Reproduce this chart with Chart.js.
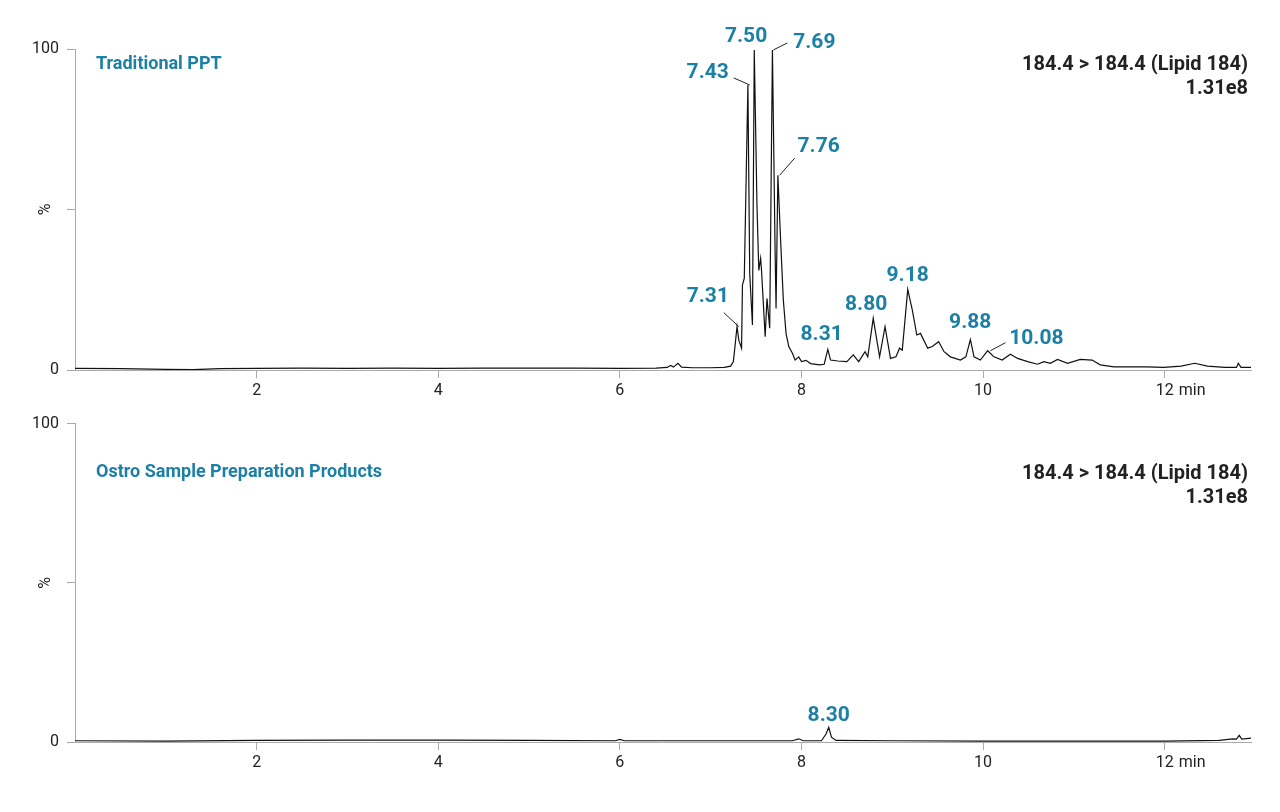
<!DOCTYPE html>
<html>
<head>
<meta charset="utf-8">
<script src="https://cdn.jsdelivr.net/npm/chart.js@4.4.1/dist/chart.umd.min.js"></script>
<style>
  html, body { margin: 0; padding: 0; background: #fff; }
  #wrap { position: relative; width: 1280px; height: 812px; }
  canvas { position: absolute; left: 0; }
</style>
</head>
<body>
<div id="wrap">
  <canvas id="topChart" width="1280" height="406" style="top:0"></canvas>
  <canvas id="bottomChart" width="1280" height="406" style="top:406px"></canvas>
</div>
<script>
// axis ticks
const xTicks = [2, 4, 6, 8, 10, 12];
const yTicks = [0, 50, 100];
const timeMax = 12.95;

const channelText = "184.4 > 184.4 (Lipid 184)";
const intensityText = "1.31e8";

// Traditional PPT trace (min, %)
const topTimes = [0, 0.5, 1.0, 1.3, 1.6, 2.0, 2.5, 3.0, 3.5, 4.0, 4.5, 5.0, 5.5, 6.0, 6.4,
  6.52, 6.56, 6.59, 6.64, 6.68, 6.8, 7.0, 7.15, 7.22, 7.25, 7.27, 7.29, 7.31, 7.34, 7.35,
  7.37, 7.41, 7.43, 7.46, 7.48, 7.51, 7.53, 7.55, 7.56, 7.60, 7.62, 7.65, 7.68, 7.71, 7.72,
  7.74, 7.77, 7.80, 7.83, 7.86, 7.90, 7.93, 7.97, 8.00, 8.05, 8.10, 8.20, 8.25, 8.29, 8.32,
  8.40, 8.50, 8.57, 8.63, 8.70, 8.73, 8.79, 8.86, 8.92, 8.98, 9.04, 9.08, 9.11, 9.17, 9.22,
  9.27, 9.31, 9.39, 9.44, 9.51, 9.57, 9.64, 9.75, 9.81, 9.86, 9.90, 9.97, 10.05, 10.12, 10.21,
  10.30, 10.38, 10.49, 10.60, 10.67, 10.74, 10.82, 10.93, 11.07, 11.20, 11.29, 11.44, 11.80, 11.99, 12.18,
  12.33, 12.47, 12.66, 12.79, 12.81, 12.84, 12.95];
const topSignal = [0.5, 0.4, 0.2, 0.1, 0.4, 0.5, 0.6, 0.5, 0.6, 0.5, 0.6, 0.6, 0.6, 0.5, 0.6,
  0.8, 1.4, 0.9, 2.1, 0.9, 0.7, 0.7, 0.8, 1.2, 2.6, 8.0, 13.5, 9.3, 6.8, 26.5,
  28.5, 88.8, 30.0, 14.0, 99.7, 51.0, 31.0, 34.8, 31.0, 10.4, 22.3, 13.0, 99.7, 36.0, 19.2,
  60.7, 40.5, 21.8, 11.4, 7.3, 5.2, 3.1, 4.1, 2.6, 3.0, 2.0, 1.6, 1.8, 6.4, 3.1,
  2.8, 2.6, 4.7, 2.6, 5.7, 4.1, 16.1, 4.1, 13.5, 3.6, 4.1, 6.8, 6.2, 25.1, 18.7,
  10.9, 11.4, 6.8, 7.3, 8.8, 5.7, 4.1, 3.1, 4.1, 9.5, 4.1, 3.1, 6.0, 4.1, 3.1,
  4.9, 3.6, 2.6, 1.8, 2.6, 2.1, 3.3, 2.1, 3.3, 3.1, 1.6, 1.0, 1.0, 0.8, 1.2,
  2.1, 1.2, 0.8, 0.8, 2.1, 0.8, 0.8];

// Ostro trace (min, %)
const bottomTimes = [0, 1, 2, 3, 4, 5, 5.95, 6.0, 6.05, 7.0, 7.9, 7.97, 8.02, 8.22, 8.27,
  8.30, 8.33, 8.38, 9, 10, 11, 12, 12.6, 12.75, 12.79, 12.82, 12.85, 12.95];
const bottomSignal = [0.4, 0.3, 0.5, 0.6, 0.6, 0.5, 0.4, 0.8, 0.4, 0.4, 0.4, 1.0, 0.4, 0.4, 2.5,
  4.6, 1.5, 0.5, 0.4, 0.3, 0.3, 0.3, 0.5, 1.0, 0.9, 2.1, 0.9, 1.2];

// annotated peaks
const topPeakLabels = ["7.31", "7.43", "7.50", "7.69", "7.76", "8.31", "8.80", "9.18", "9.88", "10.08"];
const topPeakTimes = [7.31, 7.43, 7.50, 7.69, 7.76, 8.31, 8.80, 9.18, 9.88, 10.08];
const topPeakHeights = [13.5, 88.8, 99.7, 99.7, 60.7, 6.4, 16.1, 25.1, 9.5, 6.0];
const bottomPeakLabels = ["8.30"];
const bottomPeakTimes = [8.30];
const bottomPeakHeights = [4.6];

// label placement in px relative to the peak: [dx, dy, leaderDx, leaderDy]
const topLabelPos = [[-31, -30, -15, -14], [-42, -12, -16, -7], [-10, -13, 0, 0], [41, -7, 14, -7],
  [39, -28, 15, -17], [-8, -15, 0, 0], [-8, -14, 0, 0], [-1, -14, 0, 0], [-2, -17, 0, 0], [46, -12, 15, -8]];
const bottomLabelPos = [[0, -12, 0, 0]];

const blue = "#1b7fa6";
const axisGray = "#aaaaaa";
const FONT = "Roboto, 'DejaVu Sans', sans-serif";

const chromPlugin = {
  id: "chrom",
  afterDraw(chart, args, opts) {
    const ctx = chart.ctx;
    const xs = chart.scales.x;
    const ys = chart.scales.y;
    const area = chart.chartArea;
    ctx.save();

    // sample title and channel info
    ctx.textBaseline = "middle";
    ctx.textAlign = "left";
    ctx.fillStyle = blue;
    ctx.font = "bold 18px " + FONT;
    ctx.fillText(opts.title, area.left + 21, area.top + opts.headY);
    ctx.textAlign = "right";
    ctx.fillStyle = "#222";
    ctx.font = "bold 20px " + FONT;
    ctx.fillText(channelText, area.right - 3, area.top + opts.headY + 1);
    ctx.fillText(intensityText, area.right - 3, area.top + opts.headY + 25);

    // rotated % at mid axis
    ctx.save();
    ctx.translate(area.left - 29, ys.getPixelForValue(50));
    ctx.rotate(-Math.PI / 2);
    ctx.textAlign = "center";
    ctx.font = "16px " + FONT;
    ctx.fillText("%", 0, 0);
    ctx.restore();

    // "min" unit after the last tick
    ctx.textAlign = "left";
    ctx.textBaseline = "top";
    ctx.font = "16px " + FONT;
    ctx.fillText("min", xs.getPixelForValue(xTicks[xTicks.length - 1]) + 14, area.bottom + 13);

    // peak labels
    ctx.textAlign = "center";
    ctx.textBaseline = "middle";
    ctx.font = "bold 21px " + FONT;
    opts.labels.forEach((lab, i) => {
      const px = xs.getPixelForValue(opts.times[i]);
      const py = ys.getPixelForValue(opts.heights[i]);
      const [dx, dy, lx, ly] = opts.pos[i];
      if (lx || ly) {
        ctx.strokeStyle = "#222";
        ctx.lineWidth = 1;
        ctx.beginPath();
        ctx.moveTo(px, py);
        ctx.lineTo(px + lx, py + ly);
        ctx.stroke();
      }
      ctx.fillStyle = blue;
      ctx.fillText(lab, px + dx, py + dy);
    });
    ctx.restore();
  }
};

function makeChart(id, times, signal, padTop, padBottom, plug) {
  return new Chart(document.getElementById(id), {
    type: "line",
    data: {
      datasets: [{
        data: times.map((t, i) => ({ x: t, y: signal[i] })),
        borderColor: "#111",
        borderWidth: 1.2,
        pointRadius: 0,
        tension: 0,
      }],
    },
    options: {
      responsive: false,
      animation: false,
      layout: { padding: { top: padTop, bottom: padBottom, left: 0, right: 29 } },
      plugins: { legend: { display: false }, tooltip: { enabled: false }, chrom: plug },
      scales: {
        x: {
          type: "linear",
          min: 0,
          max: timeMax,
          afterBuildTicks: (s) => { s.ticks = xTicks.map((v) => ({ value: v })); },
          afterFit: (s) => { s.height = 36; },
          grid: { drawOnChartArea: false, color: axisGray, tickLength: 8 },
          border: { color: axisGray },
          ticks: { color: "#222", font: { family: FONT, size: 16 }, padding: 3, maxRotation: 0 },
        },
        y: {
          min: 0,
          max: 100,
          afterBuildTicks: (s) => { s.ticks = yTicks.map((v) => ({ value: v })); },
          afterFit: (s) => { s.width = 75; },
          grid: { drawOnChartArea: false, color: axisGray, tickLength: 8 },
          border: { color: axisGray },
          ticks: {
            color: "#222",
            font: { family: FONT, size: 16 },
            padding: 8,
            callback: (v) => (v === 50 ? "" : v),
          },
        },
      },
    },
    plugins: [chromPlugin],
  });
}

makeChart("topChart", topTimes, topSignal, 49, 0, {
  title: "Traditional PPT", headY: 15,
  labels: topPeakLabels, times: topPeakTimes, heights: topPeakHeights, pos: topLabelPos,
});
makeChart("bottomChart", bottomTimes, bottomSignal, 15, 34, {
  title: "Ostro Sample Preparation Products", headY: 49,
  labels: bottomPeakLabels, times: bottomPeakTimes, heights: bottomPeakHeights, pos: bottomLabelPos,
});
</script>
</body>
</html>
